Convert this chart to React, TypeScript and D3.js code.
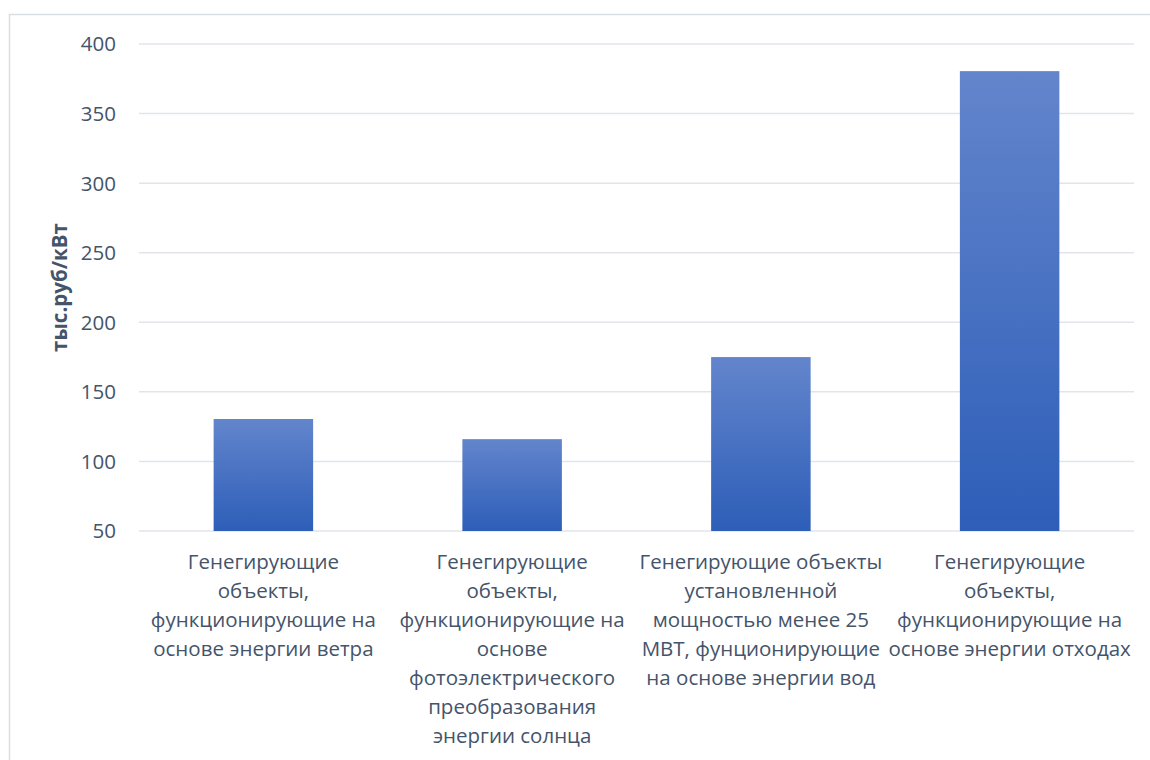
import React from "react";
import * as d3 from "d3";

const categories: string[][] = [
  ["Генегирующие", "объекты,", "функционирующие на", "основе энергии ветра"],
  ["Генегирующие", "объекты,", "функционирующие на", "основе", "фотоэлектрического", "преобразования", "энергии солнца"],
  ["Генегирующие объекты", "установленной", "мощностью менее 25", "МВТ, фунционирующие", "на основе энергии вод"],
  ["Генегирующие", "объекты,", "функционирующие на", "основе энергии отходах"],
];
const values: number[] = [130.5, 116, 175, 380.5];
const yTicks: number[] = [50, 100, 150, 200, 250, 300, 350, 400];
const yTitle = "тыс.руб/кВт";

const W = 1150;
const H = 760;
const left = 139;
const right = 1134;
const top = 44;
const bottom = 531;
const FONT = "'Open Sans', sans-serif";
const TEXT = "#44546A";

export default function App() {
  const x = d3
    .scaleBand<number>()
    .domain(d3.range(values.length))
    .range([left, right])
    .paddingInner(0.6)
    .paddingOuter(0.3);
  const y = d3.scaleLinear().domain([50, 400]).range([bottom, top]);

  return (
    <svg width={W} height={H} style={{ position: "absolute", left: 0, top: 0, background: "#fff" }}>
      <defs>
        <linearGradient id="barGrad" x1="0" y1="0" x2="0" y2="1">
          <stop offset="0%" stopColor="#6385CC" />
          <stop offset="100%" stopColor="#2D5EB8" />
        </linearGradient>
      </defs>
      <rect x={9.5} y={14.5} width={W} height={H} fill="#fff" stroke="#D9DEE5" strokeWidth={1.5} />
      {yTicks.map((t) => (
        <g key={t}>
          <line x1={left} x2={right} y1={y(t)} y2={y(t)} stroke="#E1E5EA" strokeWidth={1.5} />
          <text
            x={116}
            y={y(t)}
            dy="0.36em"
            textAnchor="end"
            fontFamily={FONT}
            fontSize={20.5}
            fill={TEXT}
          >
            {t}
          </text>
        </g>
      ))}
      {values.map((v, i) => (
        <rect
          key={i}
          x={x(i)}
          y={y(v)}
          width={x.bandwidth()}
          height={y(50) - y(v)}
          fill="url(#barGrad)"
        />
      ))}
      {categories.map((lines, i) => (
        <text
          key={i}
          textAnchor="middle"
          fontFamily={FONT}
          fontSize={20.5}
          fill={TEXT}
        >
          {lines.map((ln, j) => (
            <tspan key={j} x={(x(i) as number) + x.bandwidth() / 2} y={569 + j * 29}>
              {ln}
            </tspan>
          ))}
        </text>
      ))}
      <text
        transform={`translate(67, ${(top + bottom) / 2}) rotate(-90)`}
        textAnchor="middle"
        fontFamily={FONT}
        fontSize={20.5}
        fontWeight="bold"
        fill={TEXT}
      >
        {yTitle}
      </text>
    </svg>
  );
}
